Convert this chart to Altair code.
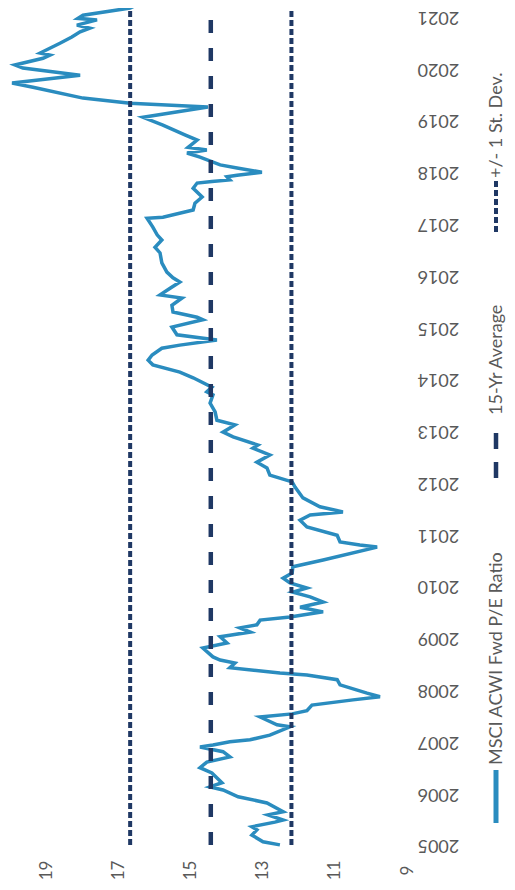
import altair as alt
import pandas as pd

# ---- data ----
dates = [2005.00, 2005.06, 2005.19, 2005.29, 2005.35, 2005.44, 2005.48, 2005.58, 2005.64, 2005.81,
         2005.93, 2006.06, 2006.12, 2006.20, 2006.39, 2006.49, 2006.60, 2006.70, 2006.80, 2006.89,
         2006.93, 2006.99, 2007.03, 2007.12, 2007.28, 2007.32, 2007.47, 2007.53, 2007.59, 2007.70,
         2007.80, 2007.86, 2007.93, 2008.09, 2008.19, 2008.28, 2008.32, 2008.42, 2008.51, 2008.57,
         2008.63, 2008.80, 2008.90, 2009.02, 2009.05, 2009.11, 2009.19, 2009.25, 2009.34, 2009.40,
         2009.50, 2009.59, 2009.69, 2009.79, 2009.88, 2009.96, 2010.06, 2010.15, 2010.25, 2010.37,
         2010.50, 2010.75, 2010.79, 2010.85, 2010.98, 2011.14, 2011.27, 2011.37, 2011.43, 2011.53,
         2011.70, 2011.91, 2012.01, 2012.14, 2012.28, 2012.39, 2012.53, 2012.66, 2012.72, 2012.88,
         2012.97, 2013.11, 2013.20, 2013.36, 2013.53, 2013.69, 2013.75, 2013.84, 2014.02, 2014.13,
         2014.27, 2014.36, 2014.46, 2014.59, 2014.65, 2014.75, 2014.85, 2015.00, 2015.14, 2015.19,
         2015.29, 2015.42, 2015.56, 2015.62, 2015.75, 2015.87, 2015.95, 2016.06, 2016.24, 2016.43,
         2016.54, 2016.68, 2016.78, 2016.93, 2017.10, 2017.12, 2017.26, 2017.39, 2017.51, 2017.68,
         2017.78, 2017.81, 2017.84, 2017.90, 2017.93, 2017.99, 2018.07, 2018.13, 2018.28, 2018.36,
         2018.42, 2018.47, 2018.61, 2018.71, 2018.90, 2019.05, 2019.25, 2019.32, 2019.42, 2019.63,
         2019.71, 2019.86, 2020.00, 2020.06, 2020.19, 2020.25, 2020.29, 2020.48, 2020.60, 2020.70,
         2020.77, 2020.83, 2020.93, 2020.96, 2021.02, 2021.16, 2021.25, 2021.31]
pe_ratio = [12.53, 13.00, 13.31, 13.17, 13.31, 12.67, 12.44, 12.86, 12.44, 12.89,
            13.69, 14.11, 14.47, 14.14, 14.42, 14.75, 14.56, 13.92, 14.11, 14.75,
            14.39, 13.92, 13.36, 12.81, 12.25, 12.61, 13.08, 12.19, 11.78, 11.64,
            10.50, 9.75, 10.11, 10.86, 10.94, 11.78, 12.53, 13.92, 13.78, 14.19,
            14.39, 14.67, 14.00, 14.19, 13.92, 13.36, 13.64, 13.17, 13.08, 12.25,
            11.33, 11.97, 11.33, 11.69, 12.17, 11.78, 12.25, 12.44, 12.19, 12.17,
            11.33, 9.83, 10.31, 10.86, 10.94, 11.78, 11.97, 11.69, 10.78, 11.42,
            11.89, 12.11, 12.19, 12.81, 12.89, 13.17, 12.81, 13.28, 13.14, 13.83,
            14.11, 13.78, 14.28, 14.33, 14.47, 14.39, 14.56, 14.42, 14.94, 15.31,
            16.06, 16.19, 16.08, 15.81, 15.31, 14.28, 15.39, 15.53, 14.67, 14.83,
            15.50, 15.53, 15.25, 15.86, 15.58, 15.31, 15.50, 15.67, 15.81, 15.86,
            16.00, 15.81, 15.94, 16.06, 16.22, 15.78, 14.94, 14.89, 14.69, 14.94,
            14.83, 14.42, 13.92, 14.00, 13.72, 13.03, 13.72, 14.19, 14.75, 15.11,
            14.56, 15.08, 14.83, 15.17, 15.78, 16.33, 14.53, 16.69, 18.00, 19.39,
            19.97, 18.08, 19.67, 19.89, 19.11, 18.92, 19.19, 18.64, 18.31, 18.08,
            17.81, 18.17, 17.61, 18.14, 18.00, 16.69, 16.42, 15.31]

avg_15yr = 14.45
st_dev = 2.24
rule_start, rule_end = 2005.0, 2021.6

year_ticks = list(range(2005, 2022))
value_ticks = [9, 11, 13, 15, 17, 19]
legend_labels = ["MSCI ACWI Fwd P/E Ratio", "15-Yr Average", "+/- 1 St. Dev."]

LINE_BLUE = "#2A8CBF"
NAVY = "#1F3864"
GRAY = "#595959"
FONT = "Lato"

df_line = pd.DataFrame({"t": dates, "v": pe_ratio})
df_avg = pd.DataFrame({"v": [avg_15yr], "t": [rule_start], "t1": [rule_end]})
df_sd = pd.DataFrame({"v": [avg_15yr + st_dev, avg_15yr - st_dev],
                      "t": [rule_start] * 2, "t1": [rule_end] * 2})

xscale = alt.Scale(domain=[9, 20.083], reverse=True, nice=False, zero=False)
yscale = alt.Scale(domain=[2004.94, 2021.16], nice=False, zero=False)

x_axis = alt.Axis(values=value_ticks, orient="bottom", labelAngle=270, labelAlign="center",
                  labelBaseline="middle", labelPadding=22, domain=False, ticks=False, grid=False,
                  labelFlush=False, labelOverlap=False, labelFont=FONT, labelFontSize=17,
                  labelColor=GRAY, title=None)
y_axis = alt.Axis(values=year_ticks, format="d", orient="right", labelAngle=180, labelAlign="right",
                  labelBaseline="middle", labelPadding=10, domain=False, ticks=False, grid=False,
                  labelFlush=False, labelOverlap=False, labelFont=FONT, labelFontSize=18,
                  labelColor=GRAY, title=None)

X = alt.X("v:Q", scale=xscale, axis=x_axis)
Y = alt.Y("t:Q", scale=yscale, axis=y_axis)

line = alt.Chart(df_line).mark_line(color=LINE_BLUE, strokeWidth=3.5, clip=True).encode(
    x=X, y=Y, order=alt.Order("t:Q"),
)

sd_rules = alt.Chart(df_sd).mark_rule(color=NAVY, strokeWidth=4, strokeDash=[6, 3], clip=True).encode(
    x=X, y=Y, y2="t1:Q",
)
avg_rule = alt.Chart(df_avg).mark_rule(color=NAVY, strokeWidth=4.5, strokeDash=[13, 15], clip=True).encode(
    x=X, y=Y, y2="t1:Q",
)

one = pd.DataFrame({"k": [0]})

def legend_text(label, ypos):
    return alt.Chart(one).mark_text(text=label, angle=270, align="left", baseline="alphabetic",
                                    font=FONT, fontSize=18, color=GRAY).encode(
        x=alt.value(494), y=alt.value(ypos))

def legend_symbol(y0, y1, width, dash=None, color=NAVY):
    kw = dict(color=color, strokeWidth=width)
    if dash:
        kw["strokeDash"] = dash
    return alt.Chart(one).mark_rule(**kw).encode(x=alt.value(488), y=alt.value(y0), y2=alt.value(y1))

legend = [
    legend_symbol(762, 815, 5, color=LINE_BLUE),
    legend_text(legend_labels[0], 757),
    legend_symbol(470, 425, 4.5, dash=[16, 13]),
    legend_text(legend_labels[1], 407),
    legend_symbol(224, 172, 4, dash=[6, 3]),
    legend_text(legend_labels[2], 170),
]

chart = alt.layer(line, sd_rules, avg_rule, *legend).properties(
    width=399, height=840,
    padding={"left": 0, "top": 0, "right": 100, "bottom": 33},
    autosize=alt.AutoSizeParams(type="none"),
).configure_view(stroke=None)

chart.save("out.html", embed_options={"renderer": "svg", "actions": False})
